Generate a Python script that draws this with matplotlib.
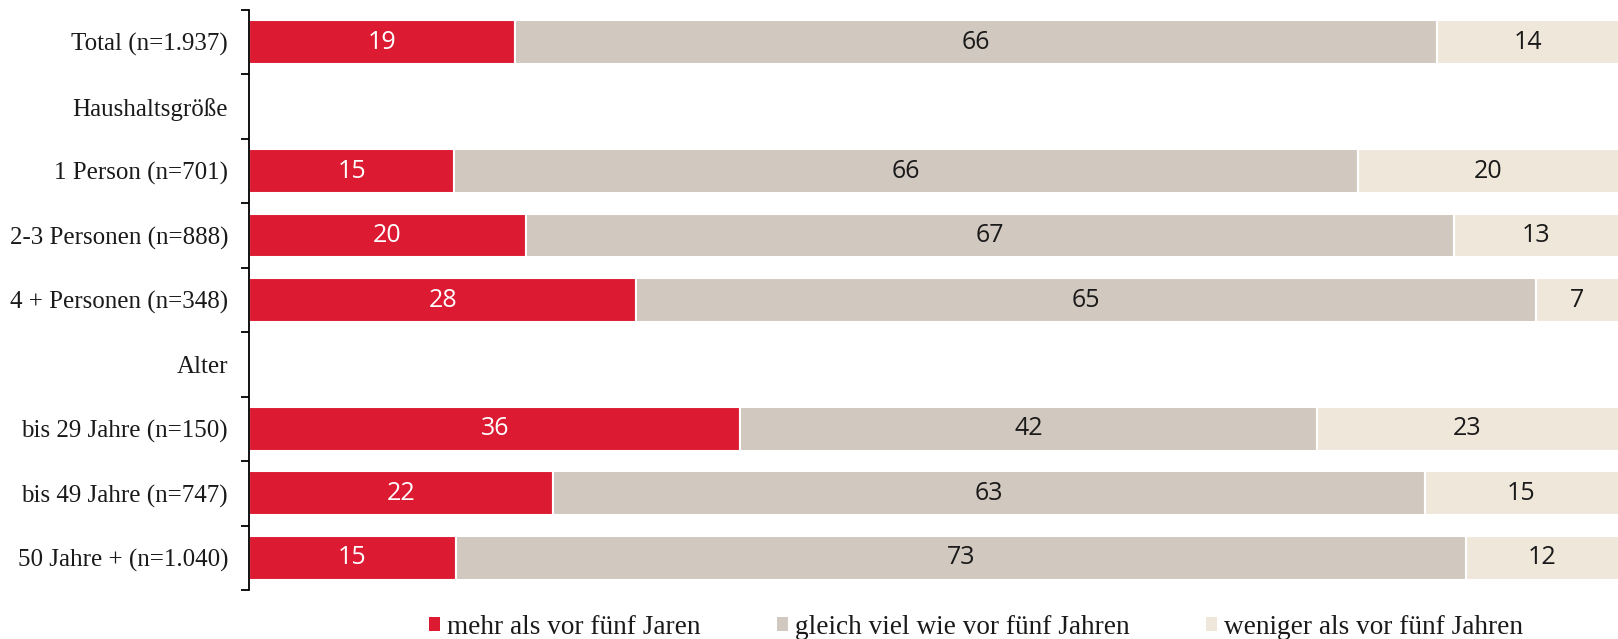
import matplotlib
matplotlib.use("Agg")
from matplotlib import pyplot as plt
from matplotlib.patches import Patch
import numpy as np

# Data (labels as printed, shares as measured from bar lengths)
categories = ["Total (n=1.937)", "Haushaltsgröße", "1 Person (n=701)", "2-3 Personen (n=888)",
              "4 + Personen (n=348)", "Alter", "bis 29 Jahre (n=150)", "bis 49 Jahre (n=747)",
              "50 Jahre + (n=1.040)"]
mehr_label = [19, None, 15, 20, 28, None, 36, 22, 15]
gleich_label = [66, None, 66, 67, 65, None, 42, 63, 73]
weniger_label = [14, None, 20, 13, 7, None, 23, 15, 12]
mehr_share = [19.4, np.nan, 15.0, 20.2, 28.3, np.nan, 35.9, 22.2, 15.1]
gleich_share = [67.4, np.nan, 66.0, 67.8, 65.7, np.nan, 42.1, 63.7, 73.8]
weniger_share = [14, np.nan, 20, 13, 7, np.nan, 23, 15, 12]
series_names = ["mehr als vor fünf Jaren", "gleich viel wie vor fünf Jahren", "weniger als vor fünf Jahren"]
colors = ["#DC1B32", "#D1C8BF", "#F0E7DB"]
text_colors = ["white", "#1a1a1a", "#1a1a1a"]

plt.rcParams['font.family'] = ['Liberation Serif', 'DejaVu Serif']

fig = plt.figure(figsize=(16.18, 6.39), dpi=100)
W, H = 1618, 639
ax = fig.add_axes([249 / W, 49 / H, 1 - 249 / W, 580 / H])

y = np.arange(len(categories))
left = np.zeros(len(categories))
for shares, labs, col, tcol in zip([mehr_share, gleich_share, weniger_share],
                                   [mehr_label, gleich_label, weniger_label], colors, text_colors):
    v = np.nan_to_num(np.array(shares, dtype=float))
    bars = ax.barh(y, v, left=left, height=0.68, color=col,
                   edgecolor="white", linewidth=1.5, clip_on=True)
    labels = ["" if l is None else str(l) for l in labs]
    ax.bar_label(bars, labels=labels, label_type="center", color=tcol, fontsize=18,
                 family="Open Sans")
    left = left + v

ax.set_xlim(0, 100)
ax.set_ylim(len(categories) - 0.5, -0.5)
ax.set_yticks(y)
ax.set_yticklabels(categories, fontsize=18, color="#1a1a1a")
ax.set_yticks(np.arange(-0.5, len(categories)), minor=True)
ax.tick_params(axis="y", which="major", length=0, pad=15)
ax.tick_params(axis="y", which="minor", length=6, width=1.3, direction="out")
ax.set_xticks([])
for s in ["top", "right", "bottom"]:
    ax.spines[s].set_visible(False)
ax.spines["left"].set_linewidth(1.3)

handles = [Patch(facecolor=c, edgecolor="none") for c in colors]
fig.legend(handles, series_names, loc="center", bbox_to_anchor=(976 / W, 1 - 627 / H),
           ncol=3, frameon=False, fontsize=19.6, handlelength=0.42, handleheight=0.42,
           handletextpad=0.25, columnspacing=2.8, labelcolor="#1a1a1a")

fig.savefig("out.png", dpi=100)
